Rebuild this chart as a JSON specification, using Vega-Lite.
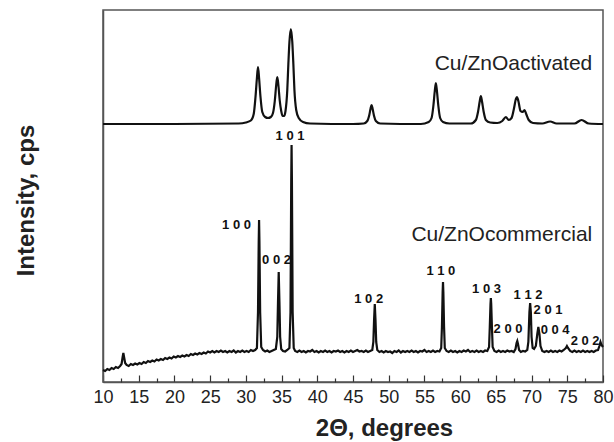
{
  "$schema": "https://vega.github.io/schema/vega-lite/v6.json",
  "width": 500,
  "height": 372,
  "autosize": {"type": "none"},
  "padding": {"left": 103, "top": 10, "right": 11, "bottom": 60},
  "config": {
    "view": {"stroke": "#555", "strokeWidth": 1.5},
    "font": "Liberation Sans"
  },
  "datasets": {
    "activated": [
      {"x": 10, "y": 258}, {"x": 20, "y": 258}, {"x": 29, "y": 258.5}, {"x": 30, "y": 259.5}, {"x": 30.7, "y": 261.5},
      {"x": 31.1, "y": 268}, {"x": 31.35, "y": 285}, {"x": 31.55, "y": 304}, {"x": 31.7, "y": 315}, {"x": 31.85, "y": 304},
      {"x": 32.05, "y": 285}, {"x": 32.3, "y": 270}, {"x": 32.7, "y": 265}, {"x": 33.1, "y": 264}, {"x": 33.5, "y": 265},
      {"x": 33.8, "y": 269}, {"x": 34.05, "y": 281}, {"x": 34.25, "y": 297}, {"x": 34.4, "y": 305}, {"x": 34.55, "y": 297},
      {"x": 34.75, "y": 281}, {"x": 34.95, "y": 271}, {"x": 35.15, "y": 266}, {"x": 35.35, "y": 266}, {"x": 35.55, "y": 271},
      {"x": 35.8, "y": 292}, {"x": 35.95, "y": 318}, {"x": 36.1, "y": 340}, {"x": 36.3, "y": 353}, {"x": 36.5, "y": 340},
      {"x": 36.65, "y": 318}, {"x": 36.8, "y": 292}, {"x": 37.05, "y": 272}, {"x": 37.4, "y": 264}, {"x": 38, "y": 260},
      {"x": 39, "y": 258.5}, {"x": 45, "y": 258}, {"x": 46.5, "y": 258.5}, {"x": 47, "y": 261}, {"x": 47.25, "y": 266},
      {"x": 47.45, "y": 273}, {"x": 47.6, "y": 277}, {"x": 47.75, "y": 273}, {"x": 47.95, "y": 266}, {"x": 48.2, "y": 261},
      {"x": 48.8, "y": 258.5}, {"x": 54.5, "y": 258}, {"x": 55.6, "y": 260}, {"x": 56, "y": 264}, {"x": 56.25, "y": 276},
      {"x": 56.45, "y": 291}, {"x": 56.6, "y": 299}, {"x": 56.75, "y": 291}, {"x": 56.95, "y": 276}, {"x": 57.2, "y": 264},
      {"x": 57.6, "y": 260}, {"x": 58.5, "y": 258.5}, {"x": 61.5, "y": 258.5}, {"x": 62.2, "y": 262}, {"x": 62.5, "y": 270},
      {"x": 62.75, "y": 281}, {"x": 62.9, "y": 286}, {"x": 63.05, "y": 281}, {"x": 63.3, "y": 270}, {"x": 63.6, "y": 262},
      {"x": 64.2, "y": 259.5}, {"x": 65.2, "y": 259}, {"x": 65.9, "y": 261}, {"x": 66.4, "y": 265}, {"x": 66.8, "y": 262},
      {"x": 67.2, "y": 264}, {"x": 67.55, "y": 274}, {"x": 67.8, "y": 283}, {"x": 67.95, "y": 285}, {"x": 68.15, "y": 281},
      {"x": 68.45, "y": 271}, {"x": 68.75, "y": 270}, {"x": 69, "y": 272}, {"x": 69.25, "y": 268}, {"x": 69.6, "y": 262},
      {"x": 70.2, "y": 259}, {"x": 71.5, "y": 258.5}, {"x": 72.6, "y": 260.5}, {"x": 73.5, "y": 258.5}, {"x": 76, "y": 258.5},
      {"x": 77, "y": 262}, {"x": 78, "y": 258.5}, {"x": 80, "y": 258}
    ],
    "commercial": [
      {"x": 10.0, "y": 12}, {"x": 10.3, "y": 11}, {"x": 10.6, "y": 13}, {"x": 10.9, "y": 12}, {"x": 11.2, "y": 14},
      {"x": 11.5, "y": 13}, {"x": 11.8, "y": 15}, {"x": 12.1, "y": 14}, {"x": 12.4, "y": 16}, {"x": 12.6, "y": 18},
      {"x": 12.75, "y": 25}, {"x": 12.85, "y": 29}, {"x": 12.95, "y": 25}, {"x": 13.1, "y": 19}, {"x": 13.3, "y": 17},
      {"x": 13.6, "y": 16}, {"x": 13.9, "y": 18}, {"x": 14.2, "y": 17}, {"x": 14.5, "y": 18.5}, {"x": 14.8, "y": 17.5},
      {"x": 15.1, "y": 19}, {"x": 15.4, "y": 18}, {"x": 15.7, "y": 20}, {"x": 16.0, "y": 19}, {"x": 16.3, "y": 21},
      {"x": 16.6, "y": 20}, {"x": 16.9, "y": 21.5}, {"x": 17.2, "y": 20.5}, {"x": 17.5, "y": 22.5}, {"x": 17.8, "y": 21.5},
      {"x": 18.1, "y": 23}, {"x": 18.4, "y": 22}, {"x": 18.7, "y": 24}, {"x": 19.0, "y": 23}, {"x": 19.3, "y": 24.5},
      {"x": 19.6, "y": 23.5}, {"x": 19.9, "y": 25.5}, {"x": 20.2, "y": 24.5}, {"x": 20.5, "y": 26}, {"x": 20.8, "y": 25},
      {"x": 21.1, "y": 26.5}, {"x": 21.4, "y": 25.5}, {"x": 21.7, "y": 27}, {"x": 22.0, "y": 26}, {"x": 22.3, "y": 28},
      {"x": 22.6, "y": 27}, {"x": 22.9, "y": 28.5}, {"x": 23.2, "y": 27.5}, {"x": 23.5, "y": 29}, {"x": 23.8, "y": 28},
      {"x": 24.1, "y": 29.5}, {"x": 24.4, "y": 28.5}, {"x": 24.7, "y": 30.5}, {"x": 25.0, "y": 29.5}, {"x": 25.3, "y": 31},
      {"x": 25.6, "y": 29.5}, {"x": 25.9, "y": 31}, {"x": 26.2, "y": 30}, {"x": 26.5, "y": 31.5}, {"x": 26.8, "y": 30},
      {"x": 27.1, "y": 31}, {"x": 27.4, "y": 29.5}, {"x": 27.7, "y": 31}, {"x": 28.0, "y": 30}, {"x": 28.3, "y": 31.5},
      {"x": 28.6, "y": 29.5}, {"x": 28.9, "y": 31}, {"x": 29.2, "y": 30}, {"x": 29.5, "y": 31.5}, {"x": 29.8, "y": 30},
      {"x": 30.1, "y": 31}, {"x": 30.4, "y": 30}, {"x": 30.7, "y": 32}, {"x": 31.0, "y": 31}, {"x": 31.3, "y": 32},
      {"x": 31.55, "y": 34}, {"x": 31.7, "y": 70}, {"x": 31.8, "y": 140}, {"x": 31.85, "y": 162}, {"x": 31.9, "y": 140},
      {"x": 32.0, "y": 70}, {"x": 32.15, "y": 35}, {"x": 32.4, "y": 32}, {"x": 32.7, "y": 30.5}, {"x": 33.0, "y": 31.5},
      {"x": 33.3, "y": 30}, {"x": 33.6, "y": 31}, {"x": 33.9, "y": 32}, {"x": 34.2, "y": 33}, {"x": 34.4, "y": 45},
      {"x": 34.5, "y": 80}, {"x": 34.6, "y": 110}, {"x": 34.7, "y": 80}, {"x": 34.8, "y": 45}, {"x": 34.95, "y": 33},
      {"x": 35.2, "y": 31}, {"x": 35.5, "y": 30.5}, {"x": 35.8, "y": 32}, {"x": 36.1, "y": 34}, {"x": 36.25, "y": 70},
      {"x": 36.35, "y": 200}, {"x": 36.4, "y": 237}, {"x": 36.45, "y": 200}, {"x": 36.55, "y": 70}, {"x": 36.7, "y": 34},
      {"x": 36.9, "y": 31}, {"x": 37.2, "y": 30}, {"x": 37.5, "y": 31.5}, {"x": 37.8, "y": 30}, {"x": 38.1, "y": 31},
      {"x": 38.4, "y": 29.5}, {"x": 38.7, "y": 31}, {"x": 39.0, "y": 30.5}, {"x": 39.3, "y": 32}, {"x": 39.6, "y": 30},
      {"x": 39.9, "y": 31}, {"x": 40.2, "y": 29.5}, {"x": 40.5, "y": 31}, {"x": 40.8, "y": 30}, {"x": 41.1, "y": 31.5},
      {"x": 41.4, "y": 30}, {"x": 41.7, "y": 31}, {"x": 42.0, "y": 29.5}, {"x": 42.3, "y": 31}, {"x": 42.6, "y": 30.5},
      {"x": 42.9, "y": 31.5}, {"x": 43.2, "y": 30}, {"x": 43.5, "y": 31}, {"x": 43.8, "y": 29.5}, {"x": 44.1, "y": 31},
      {"x": 44.4, "y": 30}, {"x": 44.7, "y": 31.5}, {"x": 45.0, "y": 30}, {"x": 45.3, "y": 31}, {"x": 45.6, "y": 32},
      {"x": 45.9, "y": 30.5}, {"x": 46.2, "y": 31}, {"x": 46.5, "y": 30}, {"x": 46.8, "y": 31.5}, {"x": 47.1, "y": 30},
      {"x": 47.4, "y": 31}, {"x": 47.7, "y": 32}, {"x": 47.85, "y": 40}, {"x": 47.95, "y": 62}, {"x": 48.05, "y": 78},
      {"x": 48.15, "y": 62}, {"x": 48.25, "y": 40}, {"x": 48.4, "y": 32}, {"x": 48.7, "y": 30}, {"x": 49.0, "y": 31},
      {"x": 49.3, "y": 29.5}, {"x": 49.6, "y": 31}, {"x": 49.9, "y": 30}, {"x": 50.2, "y": 30.5}, {"x": 50.5, "y": 29},
      {"x": 50.8, "y": 31}, {"x": 51.1, "y": 30}, {"x": 51.4, "y": 31.5}, {"x": 51.7, "y": 29.5}, {"x": 52.0, "y": 31},
      {"x": 52.3, "y": 30}, {"x": 52.6, "y": 31}, {"x": 52.9, "y": 30}, {"x": 53.2, "y": 31.5}, {"x": 53.5, "y": 30},
      {"x": 53.8, "y": 31}, {"x": 54.1, "y": 29.5}, {"x": 54.4, "y": 31}, {"x": 54.7, "y": 30.5}, {"x": 55.0, "y": 32},
      {"x": 55.3, "y": 30}, {"x": 55.6, "y": 31}, {"x": 55.9, "y": 30}, {"x": 56.2, "y": 31.5}, {"x": 56.5, "y": 30},
      {"x": 56.8, "y": 31}, {"x": 57.1, "y": 30.5}, {"x": 57.35, "y": 34}, {"x": 57.45, "y": 55}, {"x": 57.55, "y": 90},
      {"x": 57.6, "y": 100}, {"x": 57.65, "y": 90}, {"x": 57.75, "y": 55}, {"x": 57.85, "y": 34}, {"x": 58.1, "y": 31},
      {"x": 58.4, "y": 30}, {"x": 58.7, "y": 31.5}, {"x": 59.0, "y": 30}, {"x": 59.3, "y": 31}, {"x": 59.6, "y": 29.5},
      {"x": 59.9, "y": 31}, {"x": 60.2, "y": 30}, {"x": 60.5, "y": 31.5}, {"x": 60.8, "y": 30.5}, {"x": 61.1, "y": 32},
      {"x": 61.4, "y": 30}, {"x": 61.7, "y": 31}, {"x": 62.0, "y": 30}, {"x": 62.3, "y": 31.5}, {"x": 62.6, "y": 30},
      {"x": 62.9, "y": 31}, {"x": 63.2, "y": 30}, {"x": 63.5, "y": 31.5}, {"x": 63.8, "y": 31}, {"x": 64.05, "y": 35},
      {"x": 64.15, "y": 55}, {"x": 64.25, "y": 78}, {"x": 64.3, "y": 84}, {"x": 64.35, "y": 78}, {"x": 64.45, "y": 55},
      {"x": 64.55, "y": 35}, {"x": 64.8, "y": 31}, {"x": 65.1, "y": 30}, {"x": 65.4, "y": 31.5}, {"x": 65.7, "y": 30},
      {"x": 66.0, "y": 31}, {"x": 66.3, "y": 30}, {"x": 66.6, "y": 31.5}, {"x": 66.9, "y": 30.5}, {"x": 67.2, "y": 31},
      {"x": 67.5, "y": 30}, {"x": 67.75, "y": 33}, {"x": 67.9, "y": 39}, {"x": 68.0, "y": 41}, {"x": 68.1, "y": 38},
      {"x": 68.25, "y": 32}, {"x": 68.5, "y": 30}, {"x": 68.8, "y": 31}, {"x": 69.1, "y": 30.5}, {"x": 69.4, "y": 32},
      {"x": 69.55, "y": 40}, {"x": 69.7, "y": 70}, {"x": 69.8, "y": 79}, {"x": 69.9, "y": 70}, {"x": 70.0, "y": 45},
      {"x": 70.15, "y": 34}, {"x": 70.35, "y": 33}, {"x": 70.6, "y": 36}, {"x": 70.8, "y": 48}, {"x": 70.95, "y": 55},
      {"x": 71.1, "y": 48}, {"x": 71.25, "y": 36}, {"x": 71.5, "y": 31}, {"x": 71.8, "y": 30}, {"x": 72.1, "y": 31},
      {"x": 72.4, "y": 30}, {"x": 72.7, "y": 31.5}, {"x": 73.0, "y": 30}, {"x": 73.3, "y": 31}, {"x": 73.6, "y": 30},
      {"x": 73.9, "y": 31.5}, {"x": 74.2, "y": 30.5}, {"x": 74.5, "y": 32}, {"x": 74.8, "y": 34}, {"x": 74.95, "y": 36},
      {"x": 75.1, "y": 34}, {"x": 75.4, "y": 31}, {"x": 75.7, "y": 30}, {"x": 76.0, "y": 31.5}, {"x": 76.3, "y": 30},
      {"x": 76.6, "y": 31}, {"x": 76.9, "y": 30}, {"x": 77.2, "y": 31.5}, {"x": 77.5, "y": 30}, {"x": 77.8, "y": 31},
      {"x": 78.1, "y": 30}, {"x": 78.4, "y": 31}, {"x": 78.7, "y": 30}, {"x": 79.0, "y": 31.5}, {"x": 79.3, "y": 32},
      {"x": 79.5, "y": 36}, {"x": 79.65, "y": 40}, {"x": 79.8, "y": 37}, {"x": 80.0, "y": 35}
    ],
    "hkl": [
      {"x": 36.18, "y": 246, "t": "1 0 1"},
      {"x": 28.7, "y": 157, "t": "1 0 0"},
      {"x": 34.3, "y": 122, "t": "0 0 2"},
      {"x": 47.2, "y": 83, "t": "1 0 2"},
      {"x": 57.3, "y": 111, "t": "1 1 0"},
      {"x": 63.7, "y": 93, "t": "1 0 3"},
      {"x": 66.7, "y": 53, "t": "2 0 0"},
      {"x": 69.5, "y": 87, "t": "1 1 2"},
      {"x": 72.3, "y": 72, "t": "2 0 1"},
      {"x": 73.3, "y": 52, "t": "0 0 4"},
      {"x": 77.5, "y": 41, "t": "2 0 2"}
    ],
    "names": [
      {"x": 78.5, "y": 318, "t": "Cu/ZnOactivated"},
      {"x": 78.5, "y": 147, "t": "Cu/ZnOcommercial"}
    ]
  },
  "resolve": {"axis": {"x": "independent"}},
  "layer": [
    {
      "data": {"name": "activated"},
      "mark": {"type": "line", "color": "#111", "strokeWidth": 2.2, "interpolate": "monotone"},
      "encoding": {
        "x": {
          "field": "x", "type": "quantitative",
          "scale": {"domain": [10, 80], "nice": false, "zero": false},
          "axis": {
            "orient": "bottom",
            "values": [10, 15, 20, 25, 30, 35, 40, 45, 50, 55, 60, 65, 70, 75, 80],
            "tickSize": -7,
            "tickColor": "#333", "tickWidth": 1.2,
            "domainColor": "#555", "domainWidth": 1.5,
            "labelFont": "Liberation Sans", "labelFontSize": 18, "labelColor": "#222",
            "labelPadding": 13, "labelBaseline": "top", "labelFlush": false, "labelOverlap": false,
            "grid": false,
            "title": "2Θ, degrees",
            "titleFont": "Liberation Sans", "titleFontSize": 24, "titleFontWeight": "bold", "titleColor": "#222",
            "titleX": 281, "titleY": 53, "titleBaseline": "alphabetic", "titleAnchor": null
          }
        },
        "y": {
          "field": "y", "type": "quantitative",
          "scale": {"domain": [0, 372], "nice": false},
          "axis": {
            "labels": false, "ticks": false, "grid": false,
            "domainColor": "#555", "domainWidth": 1.5,
            "title": "Intensity, cps",
            "titleFont": "Liberation Sans", "titleFontSize": 24, "titleFontWeight": "bold", "titleColor": "#222",
            "titleAngle": 270, "titleX": -70, "titleY": 190, "titleBaseline": "alphabetic", "titleAlign": "center"
          }
        }
      }
    },
    {
      "data": {"name": "commercial"},
      "mark": {"type": "line", "color": "#111", "strokeWidth": 2.2, "interpolate": "linear"},
      "encoding": {
        "x": {
          "field": "x", "type": "quantitative",
          "axis": {
            "orient": "bottom",
            "values": [12.5, 17.5, 22.5, 27.5, 32.5, 37.5, 42.5, 47.5, 52.5, 57.5, 62.5, 67.5, 72.5, 77.5],
            "tickSize": -4, "tickColor": "#333", "tickWidth": 1.2,
            "labels": false, "domain": false, "grid": false, "title": null
          }
        },
        "y": {"field": "y", "type": "quantitative"}
      }
    },
    {
      "data": {"name": "hkl"},
      "mark": {"type": "text", "font": "Liberation Sans", "fontSize": 13, "fontWeight": "bold", "color": "#111", "align": "center", "baseline": "middle"},
      "encoding": {
        "x": {"field": "x", "type": "quantitative", "axis": null},
        "y": {"field": "y", "type": "quantitative"},
        "text": {"field": "t"}
      }
    },
    {
      "data": {"name": "names"},
      "mark": {"type": "text", "font": "Liberation Sans", "fontSize": 21, "color": "#222", "align": "right", "baseline": "middle"},
      "encoding": {
        "x": {"field": "x", "type": "quantitative", "axis": null},
        "y": {"field": "y", "type": "quantitative"},
        "text": {"field": "t"}
      }
    }
  ]
}
